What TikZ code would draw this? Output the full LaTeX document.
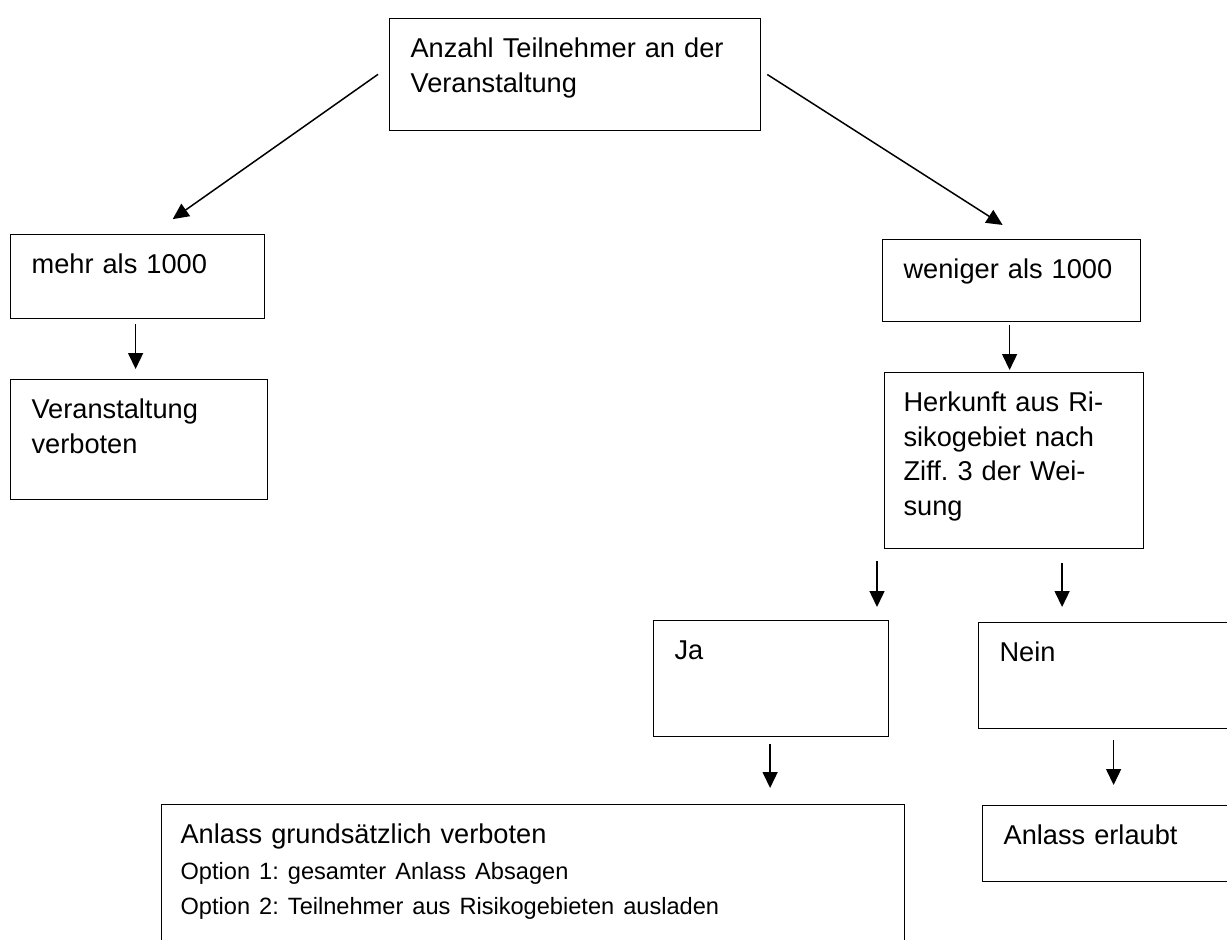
\documentclass[tikz,border=0pt]{standalone}
\usepackage{fontspec}
\setmainfont{Liberation Sans}
\usetikzlibrary{arrows.meta}
\frenchspacing

\begin{document}
\begin{tikzpicture}[x=1pt,y=-1pt,
   feld/.style={draw, line width=1.2pt, anchor=north west, align=left,
     inner xsep=21pt, inner ysep=0pt, text height=39pt,
     font=\fontsize{27.2}{34.5}\selectfont},
   pfeil/.style={line width=1.5pt, -{Triangle[length=16pt,width=15pt]}}]
   \useasboundingbox (0,0) rectangle (1227,940);
   \clip (0,0) rectangle (1227,940);

   \draw (389,18) node[feld, text width=329pt, text depth=73pt] (anzahl) {Anzahl Teilnehmer an der\\Veranstaltung};

     \draw (10,234) node[feld, text width=212pt, text depth=45pt] (mehr) {mehr als 1000};
     \draw (10,379) node[feld, text width=215pt, text depth=81pt] (verboten) {Veranstaltung\\verboten};

   \draw (882,239) node[feld, text width=216pt, text depth=43pt] (weniger) {weniger als 1000};
   \draw (884,372) node[feld, text width=221pt, text depth=137pt, inner xsep=19pt] (herkunft) {Herkunft aus Ri-\\sikogebiet nach\\Ziff. 3 der Wei-\\sung};

      \draw (653,620) node[feld, text width=193pt, text depth=77pt] (ja) {Ja};
      \draw (978,622) node[feld, text width=220pt, text depth=67pt] (nein) {Nein};

     \draw (161,804) node[feld, text width=705pt, text depth=121pt, inner xsep=19pt] (absage) {Anlass grunds\"atzlich verboten\\[8pt]\fontsize{23.6}{28}\selectfont Option 1: gesamter Anlass Absagen\\Option 2: Teilnehmer aus Risikogebieten ausladen};
     \draw (982,805) node[feld, text width=216pt, text depth=37pt] (erlaubt) {Anlass erlaubt};

   \coordinate (links) at ([xshift=-7pt]herkunft.south west);
   \coordinate (rechts) at ([xshift=48pt]herkunft.south);

     \draw[pfeil, shorten <=13.4pt, shorten >=25.8pt] ([yshift=8pt]anzahl.west) -- ([xshift=14pt]mehr.north);
     \draw[pfeil, shorten <=7.2pt, shorten >=26.1pt] ([yshift=4pt]anzahl.east) -- ([xshift=13pt]weniger.north);
     \draw[pfeil, shorten <=5pt, shorten >=10pt] ([xshift=-2pt]mehr.south) -- ([xshift=-2pt]mehr.south |- verboten.north);
     \draw[pfeil, shorten <=3pt, shorten >=2pt] ([xshift=-2pt]weniger.south) -- ([xshift=-2pt]weniger.south |- herkunft.north);
     \draw[pfeil, shorten <=12pt, shorten >=13pt] (links) -- (links |- ja.north);
     \draw[pfeil, shorten <=14pt, shorten >=15pt] (rechts) -- (rechts |- nein.north);
     \draw[pfeil, shorten <=7pt, shorten >=16pt] ([xshift=-1pt]ja.south) -- ([xshift=-1pt]ja.south |- absage.north);
     \draw[pfeil, shorten <=11pt, shorten >=20pt] ([xshift=4pt]nein.south) -- ([xshift=4pt]nein.south |- erlaubt.north);

\end{tikzpicture}
\end{document}
